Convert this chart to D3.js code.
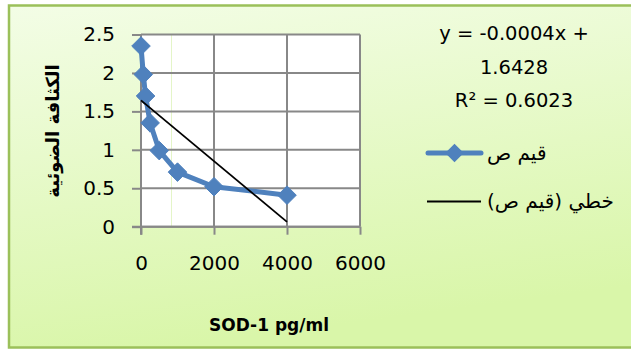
<!DOCTYPE html>
<html><head><meta charset="utf-8">
<script src="https://cdn.jsdelivr.net/npm/d3@7"></script>
<style>
html,body{margin:0;padding:0;background:#fff;}
svg{display:block;}
text{font-family:"DejaVu Sans",sans-serif;fill:#000;}
</style></head>
<body>
<script>
// ---- data ----
const concentrations = [0, 62.5, 125, 250, 500, 1000, 2000, 4000];
const absorbance = [2.35, 1.98, 1.70, 1.35, 0.99, 0.71, 0.52, 0.41];
const xTicks = [0, 2000, 4000, 6000];
const yTicks = [0, 0.5, 1, 1.5, 2, 2.5];
const trendIntercept = 1.6428;
const trendSlope = -0.000395;
const trendRange = [0, 4000];
const equationLines = ["y = -0.0004x +", "1.6428", "R\u00B2 = 0.6023"];
const seriesName = "قيم ص";
const trendName = "خطي (قيم ص)";
const xTitle = "SOD-1 pg/ml";
const yTitle = "الكثافة الضوئية";

const W = 631, H = 350;
const svg = d3.select("body").append("svg").attr("width", W).attr("height", H);

const defs = svg.append("defs");
const g = defs.append("linearGradient").attr("id","bg").attr("x1","0").attr("y1","0").attr("x2","0.25").attr("y2","1");
g.append("stop").attr("offset","0%").attr("stop-color","#f3fde6");
g.append("stop").attr("offset","100%").attr("stop-color","#d9f6a9");

// chart area with border
svg.append("rect").attr("x",9).attr("y",5.5).attr("width",640).attr("height",342)
  .attr("fill","url(#bg)").attr("stroke","#9bc05a").attr("stroke-width",2.5);

const x = d3.scaleLinear().domain([0,6000]).range([141,360]);
const y = d3.scaleLinear().domain([0,2.5]).range([226.7,34.5]);

// plot area
svg.append("rect").attr("x",x(0)).attr("y",y(2.5)).attr("width",x(6000)-x(0)).attr("height",y(0)-y(2.5)).attr("fill","#ffffff");
svg.append("line").attr("x1",171.5).attr("x2",171.5).attr("y1",y(2.5)).attr("y2",y(0)).attr("stroke","#e4f5c8").attr("stroke-width",1);

const gridColor = "#888888";
svg.append("g").selectAll("line").data(yTicks).join("line")
  .attr("x1",x(0)).attr("x2",x(6000)).attr("y1",d=>y(d)).attr("y2",d=>y(d))
  .attr("stroke",gridColor).attr("stroke-width",2);
svg.append("g").selectAll("line").data(xTicks.filter(d=>d>0)).join("line")
  .attr("x1",d=>x(d)).attr("x2",d=>x(d)).attr("y1",y(2.5)).attr("y2",y(0))
  .attr("stroke",gridColor).attr("stroke-width",2);

// axes
const yAxis = d3.axisLeft(y).tickValues(yTicks).tickSize(9).tickPadding(17).tickFormat(d3.format("~g"));
const ya = svg.append("g").attr("transform",`translate(${x(0)},0)`).call(yAxis);
const xAxis = d3.axisBottom(x).tickValues(xTicks).tickSize(8).tickPadding(21).tickFormat(d3.format("d"));
const xa = svg.append("g").attr("transform",`translate(0,${y(0)})`).call(xAxis);
[ya,xa].forEach(a=>{
  a.selectAll(".tick line").attr("stroke",gridColor).attr("stroke-width",2);
  a.selectAll(".tick text").attr("font-family","DejaVu Sans").attr("font-size",20).attr("fill","#000");
  a.select(".domain").remove();
});
svg.append("line").attr("x1",x(0)).attr("x2",x(0)).attr("y1",y(2.5)).attr("y2",y(0)+8).attr("stroke",gridColor).attr("stroke-width",2);
svg.append("line").attr("x1",x(0)-9).attr("x2",x(6000)).attr("y1",y(0)).attr("y2",y(0)).attr("stroke",gridColor).attr("stroke-width",2);

// series
const pts = concentrations.map((c,i)=>[c,absorbance[i]]);
const blue = "#4f81bd";
svg.append("path").datum(pts)
  .attr("d", d3.line().x(d=>x(d[0])).y(d=>y(d[1])))
  .attr("fill","none").attr("stroke",blue).attr("stroke-width",5).attr("stroke-linejoin","round");
const diamond = d3.symbol().type(d3.symbolDiamond2).size(220);
svg.append("g").selectAll("path").data(pts).join("path")
  .attr("transform",d=>`translate(${x(d[0])},${y(d[1])})`)
  .attr("d",diamond).attr("fill",blue).attr("stroke",blue).attr("stroke-width",1);

// trendline
svg.append("path").datum(trendRange.map(c=>[c, trendIntercept + trendSlope*c]))
  .attr("d", d3.line().x(d=>x(d[0])).y(d=>y(d[1])))
  .attr("fill","none").attr("stroke","#000").attr("stroke-width",1.8);

// equation
svg.append("g").selectAll("text").data(equationLines).join("text")
  .attr("x",514).attr("y",(d,i)=>40+ i*33.5)
  .attr("text-anchor","middle").attr("font-size",19.5).text(d=>d);

// legend
svg.append("line").attr("x1",428).attr("x2",481).attr("y1",153).attr("y2",153)
  .attr("stroke",blue).attr("stroke-width",5).attr("stroke-linecap","round");
svg.append("path").attr("transform","translate(454.5,153)").attr("d",diamond).attr("fill",blue);
svg.append("text").attr("x",487).attr("y",160).attr("font-size",20)
  .attr("direction","rtl").attr("text-anchor","end").text(seriesName);
svg.append("line").attr("x1",427).attr("x2",481).attr("y1",201.5).attr("y2",201.5)
  .attr("stroke","#000").attr("stroke-width",1.8);
svg.append("text").attr("x",487).attr("y",208).attr("font-size",20)
  .attr("direction","rtl").attr("text-anchor","end").text(trendName);

// axis titles
svg.append("text").attr("x",269).attr("y",331).attr("text-anchor","middle")
  .attr("font-size",17).attr("font-weight","bold").text(xTitle);
svg.append("text").attr("transform","translate(59,131) rotate(-90)").attr("text-anchor","middle")
  .attr("direction","rtl").attr("font-size",18).attr("font-weight","bold").text(yTitle);
</script>
</body></html>
